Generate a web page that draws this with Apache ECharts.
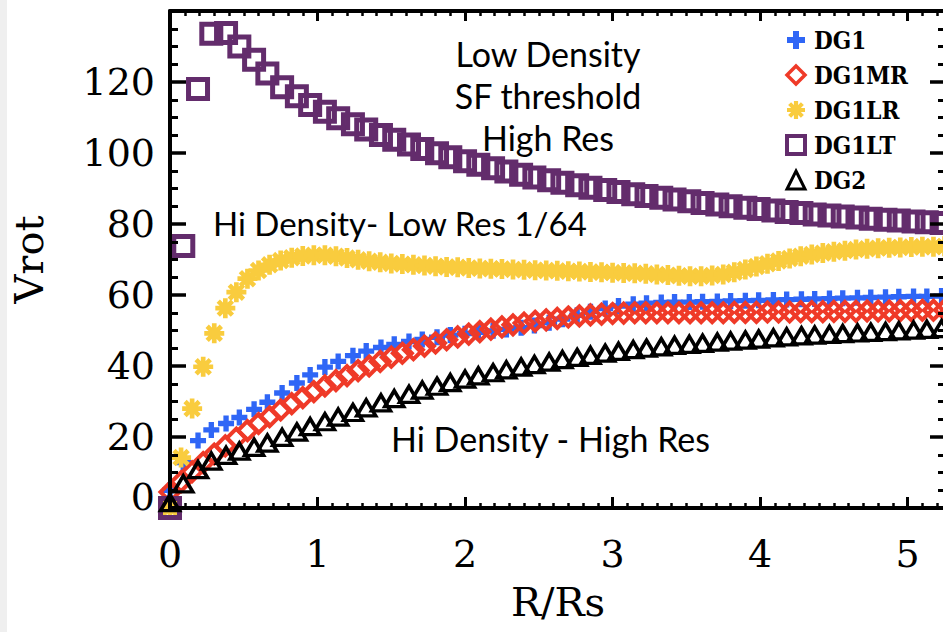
<!DOCTYPE html>
<html>
<head>
<meta charset="utf-8">
<title>Vrot vs R/Rs</title>
<script src="https://cdn.jsdelivr.net/npm/echarts@6/dist/echarts.min.js"></script>
<style>
  html, body { margin: 0; padding: 0; background: #ffffff; }
  #chart { width: 943px; height: 632px; }
</style>
</head>
<body>
<div id="chart"></div>
<script>
// Radius grids (R/Rs) at which the rotation curves are sampled
const R_COARSE = [0, 0.09, 0.19, 0.28, 0.38, 0.47, 0.57, 0.66, 0.76, 0.86,
  0.95, 1.05, 1.14, 1.24, 1.33, 1.43, 1.52, 1.62, 1.71, 1.81,
  1.90, 2.00, 2.09, 2.19, 2.28, 2.38, 2.47, 2.57, 2.66, 2.76,
  2.85, 2.95, 3.04, 3.14, 3.23, 3.33, 3.42, 3.52, 3.61, 3.71,
  3.80, 3.90, 3.99, 4.09, 4.18, 4.28, 4.37, 4.47, 4.56, 4.66,
  4.75, 4.85, 4.94, 5.04, 5.13, 5.23];

const R_FINE = [0, 0.075, 0.15, 0.225, 0.3, 0.375, 0.45, 0.525, 0.6, 0.675,
  0.75, 0.825, 0.9, 0.975, 1.05, 1.125, 1.2, 1.275, 1.35, 1.425,
  1.5, 1.575, 1.65, 1.725, 1.8, 1.875, 1.95, 2.025, 2.1, 2.175,
  2.25, 2.325, 2.4, 2.475, 2.55, 2.625, 2.7, 2.775, 2.85, 2.925,
  3.0, 3.075, 3.15, 3.225, 3.3, 3.375, 3.45, 3.525, 3.6, 3.675,
  3.75, 3.825, 3.9, 3.975, 4.05, 4.125, 4.2, 4.275, 4.35, 4.425,
  4.5, 4.575, 4.65, 4.725, 4.8, 4.875, 4.95, 5.025, 5.1, 5.175,
  5.25];

// Rotation velocities per run
const V_DG1 = [5.0, 12.8, 19.0, 22.0, 23.8, 25.5, 27.8, 29.8, 32.4, 35.2,
  37.5, 39.7, 41.3, 42.9, 44.2, 45.2, 46.1, 46.9, 47.5, 48.1,
  48.7, 49.1, 49.5, 49.9, 50.3, 50.8, 51.4, 52.2, 53.2, 54.3,
  55.3, 56.2, 56.9, 57.4, 57.7, 57.9, 58.0, 58.0, 58.1, 58.2,
  58.3, 58.4, 58.5, 58.6, 58.7, 58.8, 58.9, 59.0, 59.1, 59.2,
  59.3, 59.4, 59.5, 59.6, 59.6, 59.7];

const V_DG1MR = [4.5, 7.4, 10.2, 12.8, 15.2, 17.5, 19.7, 21.8, 23.8, 25.7,
  27.6, 29.4, 31.1, 32.8, 34.4, 35.9, 37.3, 38.7, 40.0, 41.3,
  42.5, 43.6, 44.6, 45.6, 46.5, 47.4, 48.2, 49.0, 49.7, 50.4,
  51.0, 51.6, 52.1, 52.6, 53.0, 53.4, 53.8, 54.1, 54.4, 54.6,
  54.8, 54.9, 55.0, 55.0, 55.0, 55.0, 55.0, 55.0, 55.0, 55.0,
  55.0, 55.1, 55.1, 55.1, 55.2, 55.2, 55.2, 55.3, 55.3, 55.3,
  55.4, 55.4, 55.4, 55.5, 55.5, 55.5, 55.6, 55.6, 55.7, 55.7,
  55.8];

const V_DG1LR = [0, 14.2, 28.0, 39.8, 49.2, 56.3, 60.8, 64.6, 66.9, 68.5,
  69.7, 70.5, 71.0, 71.2, 71.2, 70.9, 70.4, 69.9, 69.5, 69.2,
  68.9, 68.7, 68.5, 68.3, 68.1, 67.9, 67.8, 67.6, 67.5, 67.4,
  67.3, 67.2, 67.1, 67.0, 66.9, 66.8, 66.7, 66.6, 66.5, 66.4,
  66.3, 66.2, 66.1, 66.0, 65.8, 65.6, 65.4, 65.3, 65.3, 65.5,
  65.8, 66.4, 67.2, 68.0, 68.8, 69.6, 70.3, 70.9, 71.4, 71.8,
  72.2, 72.5, 72.8, 73.0, 73.2, 73.3, 73.4, 73.5, 73.6, 73.6,
  73.7];

const V_DG1LT = [0, 73.8, 118.0, 133.6, 133.8, 130.0, 126.3, 122.4, 118.5, 116.0,
  113.5, 111.6, 109.8, 108.1, 106.6, 105.1, 103.7, 102.4, 101.1, 99.9,
  98.8, 97.7, 96.7, 95.7, 94.8, 93.9, 93.1, 92.3, 91.6, 90.9,
  90.2, 89.6, 89.0, 88.4, 87.9, 87.4, 86.9, 86.4, 85.9, 85.5,
  85.0, 84.6, 84.2, 83.8, 83.4, 83.1, 82.7, 82.4, 82.1, 81.8,
  81.5, 81.2, 81.0, 80.7, 80.5, 80.3];

const V_DG2 = [1.5, 6.8, 10.8, 13.2, 14.8, 16.0, 17.1, 18.3, 19.9, 21.4,
  22.9, 24.3, 25.6, 26.9, 28.2, 29.6, 30.8, 32.0, 33.2, 34.3,
  35.3, 36.3, 37.2, 38.1, 38.9, 39.7, 40.4, 41.1, 41.8, 42.4,
  43.0, 43.6, 44.1, 44.6, 45.0, 45.4, 45.8, 46.1, 46.4, 46.7,
  47.0, 47.3, 47.6, 47.9, 48.2, 48.5, 48.7, 48.9, 49.1, 49.3,
  49.5, 49.7, 49.9, 50.1, 50.3, 50.5];

const SERIES_NAMES = ['DG1', 'DG1MR', 'DG1LR', 'DG1LT', 'DG2'];

const zip = (xs, ys) => xs.map((x, i) => [x, ys[i]]);

// Marker shapes
const PLUS = 'path://M-1,-3H1V-1H3V1H1V3H-1V1H-3V-1H-1Z';
const ASTERISK = 'path://M-3,-0.7L3,-0.7L3,0.7L-3,0.7Z' +
  'M-0.7,-3L0.7,-3L0.7,3L-0.7,3Z' +
  'M-2.62,-1.63L-1.63,-2.62L2.62,1.63L1.63,2.62Z' +
  'M-1.63,2.62L-2.62,1.63L1.63,-2.62L2.62,-1.63Z';

const BLUE = '#2f66f6';
const RED = '#ef3a28';
const YELLOW = '#f9cc3e';
const PURPLE = '#632c6c';
const BLACK = '#000000';

const tickFont = "'DejaVu Serif', 'Liberation Serif', serif";
const noteFont = "34px Lato, 'Open Sans', sans-serif";

const chart = echarts.init(document.getElementById('chart'), null, { renderer: 'svg' });

const xCommon = {
  type: 'value', min: 0, max: 5.26, interval: 1,
  splitLine: { show: false },
  axisLine: { show: true, onZero: false, lineStyle: { color: BLACK, width: 4 } },
  axisTick: { show: true, inside: true, length: 11, lineStyle: { color: BLACK, width: 3 } },
  minorTick: { show: true, splitNumber: 10, length: 5, lineStyle: { color: BLACK, width: 2.5 } },
  minorSplitLine: { show: false },
  z: 5
};
const yCommon = {
  type: 'value', min: 0, max: 140, interval: 20,
  splitLine: { show: false },
  axisLine: { show: true, onZero: false, lineStyle: { color: BLACK, width: 4 } },
  axisTick: { show: true, inside: true, length: 16, lineStyle: { color: BLACK, width: 3.5 } },
  minorTick: { show: true, splitNumber: 4, length: 8, lineStyle: { color: BLACK, width: 3 } },
  minorSplitLine: { show: false },
  z: 5
};

const option = {
  backgroundColor: '#ffffff',
  animation: false,
  grid: { left: 170, right: -3, top: 11, bottom: 124, containLabel: false, outerBoundsMode: 'none' },
  xAxis: [
    Object.assign({}, xCommon, {
      position: 'bottom',
      name: 'R/Rs', nameLocation: 'middle', nameGap: 74,
      nameTextStyle: { fontFamily: tickFont, fontSize: 40, color: BLACK },
      axisLabel: { show: true, margin: 27, fontFamily: tickFont, fontSize: 38, color: BLACK,
        showMaxLabel: false }
    }),
    Object.assign({}, xCommon, { position: 'top', axisLabel: { show: false },
      axisTick: Object.assign({}, xCommon.axisTick, { length: 10 }) })
  ],
  yAxis: [
    Object.assign({}, yCommon, {
      position: 'left',
      name: 'Vrot', nameLocation: 'middle', nameGap: 121, nameRotate: 90,
      nameTextStyle: { fontFamily: tickFont, fontSize: 40, color: BLACK },
      axisLabel: {
        show: true, margin: 15, fontFamily: tickFont, fontSize: 38, color: BLACK,
        showMaxLabel: false,
        formatter: v => (v === 0 ? '{z|' + v + '}' : String(v)),
        rich: { z: { fontFamily: tickFont, fontSize: 38, color: BLACK, padding: [0, 0, 22, 0] } }
      }
    }),
    Object.assign({}, yCommon, { position: 'right', axisLabel: { show: false } })
  ],
  legend: {
    orient: 'vertical', left: 780, top: 23,
    itemWidth: 18, itemHeight: 18, itemGap: 11,
    textStyle: { fontFamily: "'DejaVu Serif Condensed', 'DejaVu Serif', serif", fontWeight: 'bold',
      fontSize: 24, color: BLACK, padding: [0, 0, 0, 4] },
    data: [
      { name: SERIES_NAMES[0], itemStyle: { borderWidth: 0 } },
      { name: SERIES_NAMES[1], itemStyle: { borderWidth: 3.5 } },
      { name: SERIES_NAMES[2], itemStyle: { borderWidth: 0 } },
      { name: SERIES_NAMES[3], itemStyle: { borderWidth: 4 } },
      { name: SERIES_NAMES[4], itemStyle: { borderWidth: 3 } }
    ]
  },
  series: [
    { name: SERIES_NAMES[0], type: 'scatter', data: zip(R_COARSE, V_DG1),
      symbol: PLUS, symbolSize: 16, itemStyle: { color: BLUE, borderWidth: 0, opacity: 1 } },
    { name: SERIES_NAMES[1], type: 'scatter', data: zip(R_FINE, V_DG1MR),
      symbol: 'diamond', symbolSize: 19,
      itemStyle: { color: 'rgba(0,0,0,0)', borderColor: RED, borderWidth: 4, opacity: 1 } },
    { name: SERIES_NAMES[2], type: 'scatter', data: zip(R_FINE, V_DG1LR),
      symbol: ASTERISK, symbolSize: 20, itemStyle: { color: YELLOW, borderWidth: 0, opacity: 1 } },
    { name: SERIES_NAMES[3], type: 'scatter', data: zip(R_COARSE, V_DG1LT),
      symbol: 'rect', symbolSize: 19,
      itemStyle: { color: 'rgba(0,0,0,0)', borderColor: PURPLE, borderWidth: 5, opacity: 1 } },
    { name: SERIES_NAMES[4], type: 'scatter', data: zip(R_COARSE, V_DG2),
      symbol: 'triangle', symbolSize: [19, 16],
      itemStyle: { color: 'rgba(0,0,0,0)', borderColor: BLACK, borderWidth: 3.5, opacity: 1 } }
  ],
  graphic: [
    { type: 'rect', left: 0, top: 0, z: -10, silent: true,
      shape: { width: 7, height: 632 }, style: { fill: '#efefef' } },
    { type: 'text', x: 548, y: 53, z: 10,
      style: { text: 'Low Density', font: noteFont, fill: BLACK, textAlign: 'center', textVerticalAlign: 'middle', align: 'center', verticalAlign: 'middle' } },
    { type: 'text', x: 548, y: 95, z: 10,
      style: { text: 'SF threshold', font: noteFont, fill: BLACK, textAlign: 'center', textVerticalAlign: 'middle', align: 'center', verticalAlign: 'middle' } },
    { type: 'text', x: 548, y: 137, z: 10,
      style: { text: 'High Res', font: noteFont, fill: BLACK, textAlign: 'center', textVerticalAlign: 'middle', align: 'center', verticalAlign: 'middle' } },
    { type: 'text', x: 213, y: 223, z: 10,
      style: { text: 'Hi Density- Low Res 1/64', font: "33px Lato, 'Open Sans', sans-serif", fill: BLACK, textAlign: 'left', textVerticalAlign: 'middle', align: 'left', verticalAlign: 'middle' } },
    { type: 'text', x: 391, y: 438, z: 10,
      style: { text: 'Hi Density - High Res', font: noteFont, fill: BLACK, textAlign: 'left', textVerticalAlign: 'middle', align: 'left', verticalAlign: 'middle' } }
  ]
};

chart.setOption(option);
</script>
</body>
</html>
